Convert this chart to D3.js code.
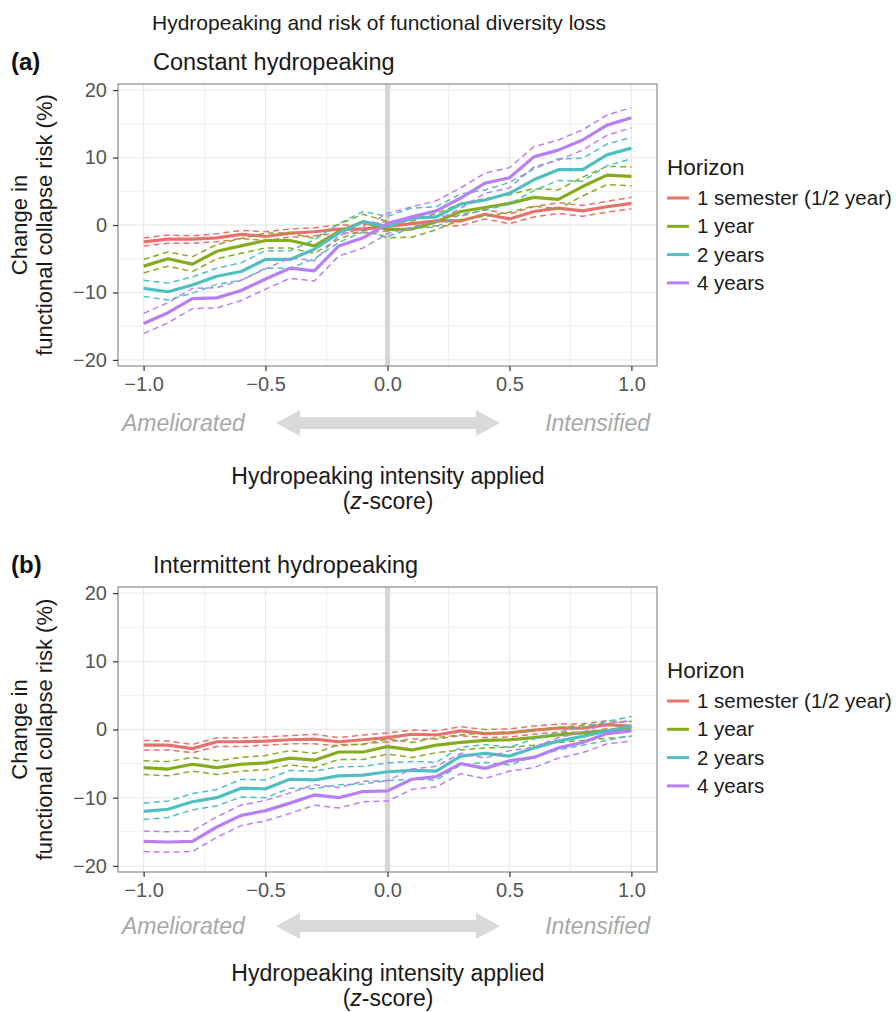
<!DOCTYPE html>
<html>
<head>
<meta charset="utf-8">
<script src="https://cdn.jsdelivr.net/npm/d3@7"></script>
<style>
  body { margin: 0; background: #fff; }
  svg text { font-family: "Liberation Sans", Arial, sans-serif; }
</style>
</head>
<body>
<svg id="chart" width="896" height="1012"></svg>
<script>
// x positions (z-score of hydropeaking intensity)
const zScores = [-1.0, -0.9, -0.8, -0.7, -0.6, -0.5, -0.4, -0.3, -0.2, -0.1, 0.0,
  0.1, 0.2, 0.3, 0.4, 0.5, 0.6, 0.7, 0.8, 0.9, 1.0];
const horizons = ["1 semester (1/2 year)", "1 year", "2 years", "4 years"];
const xTicks = [-1.0, -0.5, 0.0, 0.5, 1.0];
const yTicks = [-20, -10, 0, 10, 20];

// (a) constant hydropeaking
const semA = [-2.5, -2.1, -2.1, -1.9, -1.4, -1.7, -1.2, -1.0, -0.6, -0.6, -0.2, 0.2, 0.6, 0.6, 1.6, 0.9, 2.0, 2.5, 2.1, 2.7, 3.2];
const semAHi = [-1.9, -1.5, -1.6, -1.3, -0.8, -1.0, -0.6, -0.4, 0.0, 0.0, 0.5, 0.9, 1.3, 1.3, 2.3, 1.6, 2.7, 3.3, 2.9, 3.5, 4.1];
const semALo = [-3.1, -2.7, -2.7, -2.5, -2.0, -2.3, -1.8, -1.6, -1.2, -1.2, -0.9, -0.5, -0.1, -0.1, 0.9, 0.2, 1.2, 1.7, 1.3, 1.9, 2.4];
const yr1A = [-6.1, -5.0, -5.8, -3.9, -3.1, -2.3, -2.3, -3.1, -1.0, 0.5, -0.7, -0.6, 0.5, 2.0, 2.6, 3.2, 4.1, 3.8, 5.7, 7.4, 7.2];
const yr1AHi = [-5.1, -4.0, -4.7, -2.9, -2.0, -1.2, -1.2, -2.0, 0.1, 1.6, 0.5, 0.6, 1.7, 3.2, 3.9, 4.5, 5.4, 5.2, 7.1, 8.7, 8.6];
const yr1ALo = [-7.1, -6.1, -6.9, -5.0, -4.2, -3.4, -3.4, -4.2, -2.1, -0.7, -1.9, -1.8, -0.7, 0.8, 1.3, 1.9, 2.8, 2.4, 4.3, 6.0, 5.8];
const yr2A = [-9.4, -9.9, -8.9, -7.6, -6.9, -5.1, -5.1, -3.6, -1.2, 0.5, -0.2, 1.0, 1.2, 3.1, 3.7, 4.7, 6.7, 8.2, 8.2, 10.4, 11.4];
const yr2AHi = [-8.2, -8.6, -7.7, -6.4, -5.6, -3.8, -3.8, -2.2, 0.2, 2.0, 1.3, 2.5, 2.7, 4.6, 5.2, 6.3, 8.3, 9.8, 9.9, 12.0, 13.0];
const yr2ALo = [-10.6, -11.1, -10.1, -8.8, -8.2, -6.4, -6.4, -5.0, -2.6, -1.0, -1.7, -0.5, -0.3, 1.6, 2.2, 3.1, 5.1, 6.6, 6.5, 8.8, 9.8];
const yr4A = [-14.6, -13.0, -10.9, -10.8, -9.7, -8.0, -6.4, -6.8, -3.1, -1.9, 0.2, 1.2, 2.1, 4.0, 6.2, 7.0, 10.1, 11.1, 12.6, 14.8, 15.9];
const yr4AHi = [-13.1, -11.5, -9.4, -9.3, -8.2, -6.5, -4.9, -5.3, -1.6, -0.4, 1.7, 2.7, 3.6, 5.5, 7.7, 8.5, 11.6, 12.6, 14.1, 16.3, 17.4];
const yr4ALo = [-16.1, -14.5, -12.4, -12.3, -11.2, -9.5, -7.9, -8.3, -4.6, -3.4, -1.3, -0.3, 0.6, 2.5, 4.7, 5.5, 8.6, 9.6, 11.1, 13.3, 14.4];

// (b) intermittent hydropeaking
const semB = [-2.3, -2.3, -2.8, -1.8, -1.8, -1.7, -1.5, -1.4, -1.8, -1.5, -1.2, -0.7, -0.8, -0.2, -0.6, -0.5, -0.1, 0.2, 0.2, 0.7, 0.5];
const semBHi = [-1.6, -1.7, -2.2, -1.2, -1.2, -1.1, -0.9, -0.7, -1.2, -0.8, -0.5, -0.1, -0.2, 0.4, 0.0, 0.1, 0.5, 0.8, 0.8, 1.3, 1.1];
const semBLo = [-3.0, -3.0, -3.4, -2.5, -2.5, -2.3, -2.1, -2.1, -2.4, -2.1, -1.8, -1.4, -1.4, -0.9, -1.2, -1.1, -0.7, -0.4, -0.4, 0.1, -0.1];
const yr1B = [-5.6, -5.8, -5.1, -5.6, -5.1, -4.9, -4.2, -4.5, -3.3, -3.3, -2.5, -3.0, -2.3, -1.9, -1.6, -1.5, -1.2, -0.8, -0.5, -0.2, 0.1];
const yr1BHi = [-4.6, -4.7, -4.1, -4.6, -4.1, -3.8, -3.1, -3.5, -2.2, -2.2, -1.4, -1.9, -1.2, -0.8, -0.5, -0.4, -0.1, 0.3, 0.6, 0.9, 1.2];
const yr1BLo = [-6.6, -6.8, -6.1, -6.6, -6.1, -5.9, -5.2, -5.6, -4.4, -4.4, -3.6, -4.1, -3.4, -3.0, -2.7, -2.6, -2.3, -1.9, -1.6, -1.3, -1.0];
const yr2B = [-12.0, -11.7, -10.6, -10.0, -8.6, -8.7, -7.3, -7.4, -6.8, -6.7, -6.2, -6.0, -6.1, -3.9, -3.5, -3.9, -2.7, -1.7, -1.0, -0.2, 0.5];
const yr2BHi = [-10.8, -10.5, -9.4, -8.8, -7.3, -7.4, -6.0, -6.1, -5.5, -5.4, -4.9, -4.7, -4.8, -2.6, -2.2, -2.6, -1.4, -0.4, 0.3, 1.2, 1.9];
const yr2BLo = [-13.2, -12.9, -11.8, -11.2, -9.9, -10.0, -8.6, -8.7, -8.1, -8.0, -7.5, -7.3, -7.4, -5.2, -4.8, -5.2, -4.0, -3.0, -2.3, -1.6, -0.9];
const yr4B = [-16.4, -16.5, -16.4, -14.3, -12.6, -11.9, -10.8, -9.6, -10.0, -9.1, -9.0, -7.3, -6.9, -5.0, -5.7, -4.6, -4.1, -2.7, -1.9, -0.6, -0.2];
const yr4BHi = [-14.9, -15.0, -14.9, -12.8, -11.1, -10.4, -9.3, -8.1, -8.5, -7.6, -7.5, -5.8, -5.4, -3.5, -4.2, -3.1, -2.6, -1.2, -0.4, 0.9, 1.3];
const yr4BLo = [-17.9, -18.0, -17.9, -15.8, -14.1, -13.4, -12.3, -11.1, -11.5, -10.6, -10.5, -8.8, -8.4, -6.5, -7.2, -6.1, -5.6, -4.2, -3.4, -2.1, -1.7];

var colors = d3.scaleOrdinal()
  .domain(horizons)
  .range(["#e8716c", "#86ac1e", "#4fbfc1", "#b77ff5"]);

var svg = d3.select('#chart');

svg.append("text")
  .attr("x", 152).attr("y", 30)
  .style("font-size", "21px").style("fill", "#1a1a1a")
  .text("Hydropeaking and risk of functional diversity loss");

var panels = [
  { tag: "(a)", title: "Constant hydropeaking", top: 84, bottom: 366, dy: 0, dt: 0,
    series: [[semA, semALo, semAHi], [yr1A, yr1ALo, yr1AHi], [yr2A, yr2ALo, yr2AHi], [yr4A, yr4ALo, yr4AHi]] },
  { tag: "(b)", title: "Intermittent hydropeaking", top: 587, bottom: 872, dy: 503, dt: 497,
    series: [[semB, semBLo, semBHi], [yr1B, yr1BLo, yr1BHi], [yr2B, yr2BLo, yr2BHi], [yr4B, yr4BLo, yr4BHi]] }
];

var left = 118, right = 657;
var x = d3.scaleLinear().domain([-1.105, 1.105]).range([left, right]);

panels.forEach(function (p) {
  var y = d3.scaleLinear().domain([-20.9, 20.9]).range([p.bottom, p.top]);
  var g = svg.append("g");

  // labels
  g.append("text").attr("x", 11).attr("y", 70 + p.dy)
    .style("font-size", "24px").style("font-weight", "bold").style("fill", "#111")
    .text(p.tag);
  g.append("text").attr("x", 153).attr("y", 70 + p.dy)
    .style("font-size", "23.5px").style("fill", "#1a1a1a")
    .text(p.title);

  // panel background + grid
  g.append("rect").attr("x", left).attr("y", p.top)
    .attr("width", right - left).attr("height", p.bottom - p.top)
    .style("fill", "#fff");

  var minorX = [-0.75, -0.25, 0.25, 0.75];
  var minorY = [-15, -5, 5, 15];
  g.selectAll(".gx").data(xTicks.concat(minorX)).enter().append("line")
    .attr("x1", d => x(d)).attr("x2", d => x(d))
    .attr("y1", p.top).attr("y2", p.bottom)
    .style("stroke", "#ebebeb").style("stroke-width", d => minorX.indexOf(d) >= 0 ? 0.8 : 1.3);
  g.selectAll(".gy").data(yTicks.concat(minorY)).enter().append("line")
    .attr("x1", left).attr("x2", right)
    .attr("y1", d => y(d)).attr("y2", d => y(d))
    .style("stroke", "#ebebeb").style("stroke-width", d => minorY.indexOf(d) >= 0 ? 0.8 : 1.3);

  // zero line
  g.append("line")
    .attr("x1", x(0)).attr("x2", x(0)).attr("y1", p.top).attr("y2", p.bottom)
    .style("stroke", "#d6d6d6").style("stroke-width", 5);

  // series
  p.series.forEach(function (s, i) {
    var col = colors(horizons[i]);
    [s[1], s[2]].forEach(function (band) {
      g.append("path")
        .datum(band)
        .attr("d", d3.line().x((d, j) => x(zScores[j])).y(d => y(d)))
        .style("fill", "none").style("stroke", col)
        .style("stroke-width", 1.5).style("stroke-dasharray", "6,4");
    });
    g.append("path")
      .datum(s[0])
      .attr("d", d3.line().x((d, j) => x(zScores[j])).y(d => y(d)))
      .style("fill", "none").style("stroke", col)
      .style("stroke-width", 3.2).style("stroke-linejoin", "round");
  });

  g.append("rect").attr("x", left).attr("y", p.top)
    .attr("width", right - left).attr("height", p.bottom - p.top)
    .style("fill", "none").style("stroke", "#8a8a8a").style("stroke-width", 1.2);

  // axes
  var ya = g.append("g").attr("transform", "translate(" + left + ",0)")
    .call(d3.axisLeft(y).tickValues(yTicks).tickSize(5).tickPadding(6).tickFormat(d3.format("d")));
  var xa = g.append("g").attr("transform", "translate(0," + p.bottom + ")")
    .call(d3.axisBottom(x).tickValues(xTicks).tickSize(5).tickPadding(6).tickFormat(d3.format(".1f")));
  [ya, xa].forEach(function (a) {
    a.select(".domain").remove();
    a.selectAll("line").style("stroke", "#333").style("stroke-width", 1.2);
    a.selectAll("text").style("font-size", "20px").style("fill", "#555")
      .style("font-family", "Liberation Sans, Arial, sans-serif");
  });

  // y title
  var cy = (p.top + p.bottom) / 2;
  g.append("text").attr("transform", "translate(27," + cy + ") rotate(-90)")
    .attr("text-anchor", "middle").style("font-size", "22px").style("fill", "#1a1a1a")
    .text("Change in");
  g.append("text").attr("transform", "translate(52," + cy + ") rotate(-90)")
    .attr("text-anchor", "middle").style("font-size", "22px").style("fill", "#1a1a1a")
    .text("functional collapse risk (%)");

  // direction annotation
  var ay = 423 + p.dy;
  g.append("text").attr("x", 122).attr("y", ay + 8)
    .style("font-size", "23px").style("font-style", "italic").style("fill", "#a8a8a8")
    .text("Ameliorated");
  g.append("text").attr("x", 650).attr("y", ay + 8).attr("text-anchor", "end")
    .style("font-size", "23px").style("font-style", "italic").style("fill", "#a8a8a8")
    .text("Intensified");
  var x0 = 276, x1 = 500, hl = 24, sh = 6, hh = 13;
  g.append("path")
    .attr("d", "M" + x0 + "," + ay + " L" + (x0 + hl) + "," + (ay - hh) + " L" + (x0 + hl) + "," + (ay - sh) +
      " L" + (x1 - hl) + "," + (ay - sh) + " L" + (x1 - hl) + "," + (ay - hh) + " L" + x1 + "," + ay +
      " L" + (x1 - hl) + "," + (ay + hh) + " L" + (x1 - hl) + "," + (ay + sh) + " L" + (x0 + hl) + "," + (ay + sh) +
      " L" + (x0 + hl) + "," + (ay + hh) + " Z")
    .style("fill", "#d9d9d9");

  // x title
  g.append("text").attr("x", 388).attr("y", 484 + p.dt)
    .attr("text-anchor", "middle").style("font-size", "23px").style("fill", "#1a1a1a")
    .text("Hydropeaking intensity applied");
  var tz = g.append("text").attr("x", 388).attr("y", 509 + p.dt)
    .attr("text-anchor", "middle").style("font-size", "23px").style("fill", "#1a1a1a");
  tz.append("tspan").text("(");
  tz.append("tspan").style("font-style", "italic").text("z");
  tz.append("tspan").text("-score)");

  // legend
  var lg = g.append("g").attr("transform", "translate(667," + (167 + p.dy) + ")");
  lg.append("text").attr("x", 0).attr("y", 8)
    .style("font-size", "22.5px").style("fill", "#1a1a1a").text("Horizon");
  var items = lg.selectAll(".item").data(horizons).enter().append("g")
    .attr("transform", (d, i) => "translate(0," + (31 + i * 28.3) + ")");
  items.append("line").attr("x1", 0).attr("x2", 22)
    .style("stroke", d => colors(d)).style("stroke-width", 3);
  items.append("text").attr("x", 30).attr("y", 7)
    .style("font-size", "20.5px").style("fill", "#1a1a1a").text(d => d);
});
</script>
</body>
</html>
